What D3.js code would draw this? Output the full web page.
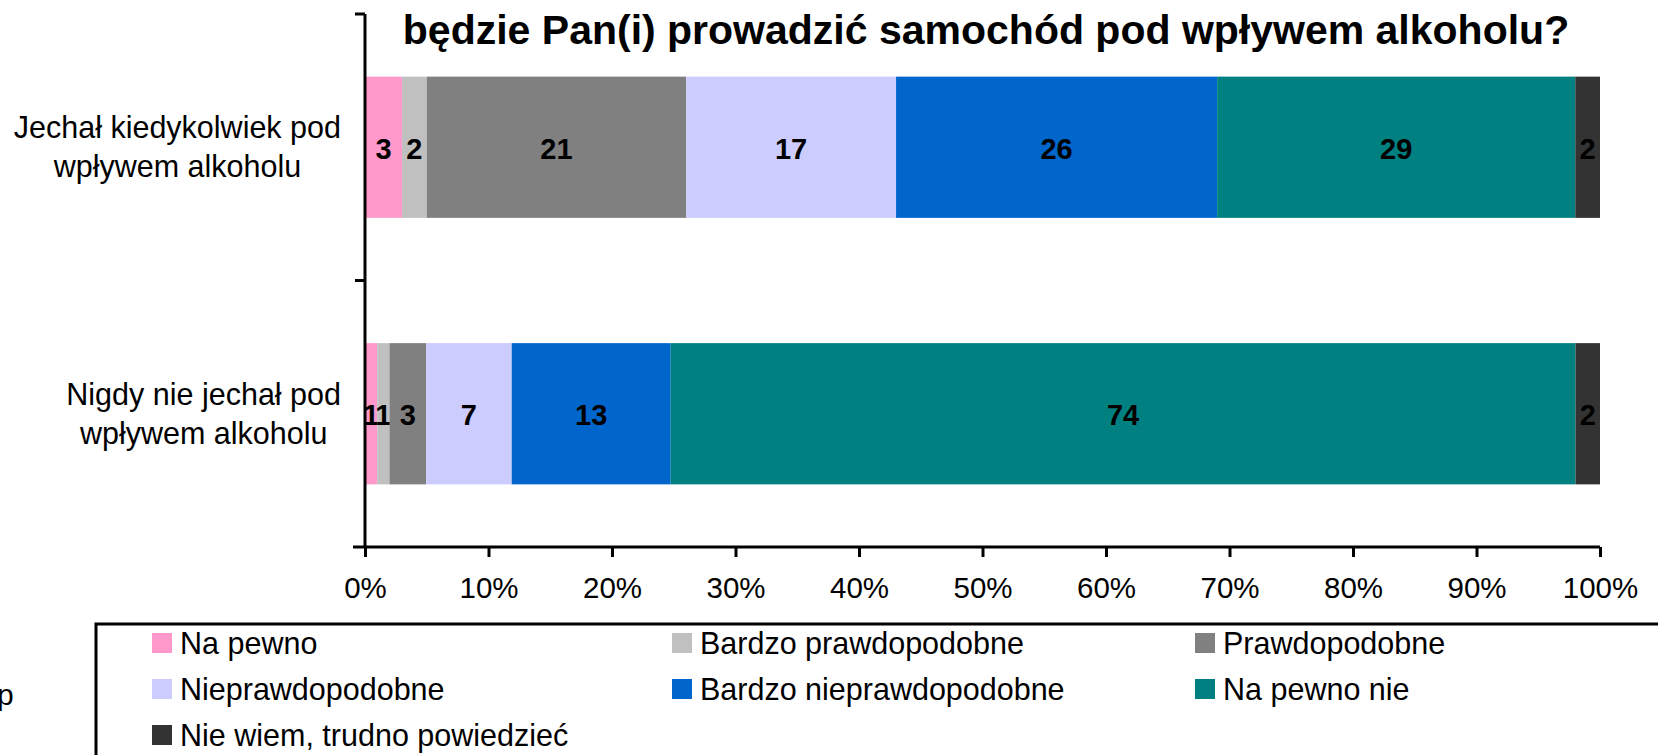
<!DOCTYPE html>
<html>
<head>
<meta charset="utf-8">
<script src="https://cdn.jsdelivr.net/npm/d3@7"></script>
<style>
  html, body { margin: 0; padding: 0; background: #ffffff; }
  svg { display: block; font-family: "Liberation Sans", Arial, sans-serif; }
</style>
</head>
<body>
<svg id="chart" width="1658" height="755"></svg>
<script>
const titleText = "będzie Pan(i) prowadzić samochód pod wpływem alkoholu?";
const categories = ["Jechał kiedykolwiek pod\nwpływem alkoholu", "Nigdy nie jechał pod\nwpływem alkoholu"];
const seriesNames = ["Na pewno", "Bardzo prawdopodobne", "Prawdopodobne", "Nieprawdopodobne", "Bardzo nieprawdopodobne", "Na pewno nie", "Nie wiem, trudno powiedzieć"];
const seriesColors = ["#FF99CC", "#C0C0C0", "#808080", "#CCCCFF", "#0066CC", "#008080", "#333333"];
const valuesEver = [3, 2, 21, 17, 26, 29, 2];
const valuesNever = [1, 1, 3, 7, 13, 74, 2];
const xTicks = [0, 0.1, 0.2, 0.3, 0.4, 0.5, 0.6, 0.7, 0.8, 0.9, 1.0];

const svg = d3.select("#chart");
const M = { left: 365, right: 1600, top: 14, bottom: 547 };

// data table
const rows = categories.map((c, i) => {
  const vals = i === 0 ? valuesEver : valuesNever;
  const r = { cat: c };
  seriesNames.forEach((s, j) => r[s] = vals[j]);
  return r;
});
const stack = d3.stack().keys(seriesNames).offset(d3.stackOffsetExpand);
const layers = stack(rows);

const x = d3.scaleLinear().domain([0, 1]).range([M.left, M.right]);
const y = d3.scaleBand().domain(categories).range([M.top, M.bottom]).paddingInner(0.47).paddingOuter(0.235);

// title
svg.append("text")
  .attr("x", 986).attr("y", 44)
  .attr("text-anchor", "middle")
  .attr("font-weight", "bold")
  .attr("font-size", 41)
  .attr("fill", "#000")
  .text(titleText);

// bars
const g = svg.append("g");
layers.forEach((layer, li) => {
  g.selectAll(null).data(layer).enter().append("rect")
    .attr("x", d => x(d[0]))
    .attr("y", d => y(d.data.cat))
    .attr("width", d => x(d[1]) - x(d[0]))
    .attr("height", y.bandwidth())
    .attr("fill", seriesColors[li]);
  g.selectAll(null).data(layer).enter().append("text")
    .attr("x", d => (x(d[0]) + x(d[1])) / 2)
    .attr("y", d => y(d.data.cat) + y.bandwidth() / 2)
    .attr("dy", "0.4em")
    .attr("text-anchor", "middle")
    .attr("font-weight", "bold")
    .attr("font-size", 29)
    .attr("fill", "#000")
    .text(d => d.data[layer.key]);
});

// x axis
const xAxis = d3.axisBottom(x).tickValues(xTicks).tickFormat(d3.format(".0%")).tickSize(10).tickPadding(20);
const xg = svg.append("g").attr("transform", `translate(0,${M.bottom})`).call(xAxis);
xg.select(".domain").attr("stroke", "#000").attr("stroke-width", 3).attr("d", `M${M.left - 12},0H${M.right}`);
xg.selectAll(".tick line").attr("stroke", "#000").attr("stroke-width", 3);
xg.selectAll(".tick text").attr("font-size", 29.5).attr("font-family", "Liberation Sans, Arial, sans-serif").attr("fill", "#000");

// y axis: line with ticks at band boundaries
const yg = svg.append("g");
yg.append("line").attr("x1", M.left).attr("x2", M.left).attr("y1", M.top).attr("y2", M.bottom)
  .attr("stroke", "#000").attr("stroke-width", 3);
const boundaries = [M.top, (y(categories[0]) + y.bandwidth() + y(categories[1])) / 2];
boundaries.forEach(b => {
  yg.append("line").attr("x1", M.left - 10).attr("x2", M.left).attr("y1", b).attr("y2", b)
    .attr("stroke", "#000").attr("stroke-width", 3);
});

// category labels: wrapped lines centered within a block right-aligned to the axis
const labelRight = 341;
categories.forEach(c => {
  const lines = c.split("\n");
  const cy = y(c) + y.bandwidth() / 2;
  const t = svg.append("text")
    .attr("text-anchor", "middle")
    .attr("font-size", 30.5)
    .attr("fill", "#000");
  const spans = lines.map((ln, i) => t.append("tspan").attr("y", cy - 9 + i * 39).text(ln));
  const maxW = d3.max(spans, s => s.node().getComputedTextLength());
  spans.forEach(s => s.attr("x", labelRight - maxW / 2));
});

// stray text at left edge
svg.append("text").attr("x", -3).attr("y", 705).attr("font-size", 30).attr("fill", "#000").text("p");

// legend
svg.append("rect").attr("x", 96).attr("y", 624).attr("width", 1600).attr("height", 200)
  .attr("fill", "#fff").attr("stroke", "#000").attr("stroke-width", 3);
const colX = [152, 672, 1195];
const rowY = [643, 689, 735];
seriesNames.forEach((s, i) => {
  const cx = colX[i % 3], cy = rowY[Math.floor(i / 3)];
  svg.append("rect").attr("x", cx).attr("y", cy - 10).attr("width", 20).attr("height", 20).attr("fill", seriesColors[i]);
  svg.append("text").attr("x", cx + 28).attr("y", cy).attr("dy", "0.36em")
    .attr("font-size", 30.5).attr("fill", "#000").text(s);
});
</script>
</body>
</html>
